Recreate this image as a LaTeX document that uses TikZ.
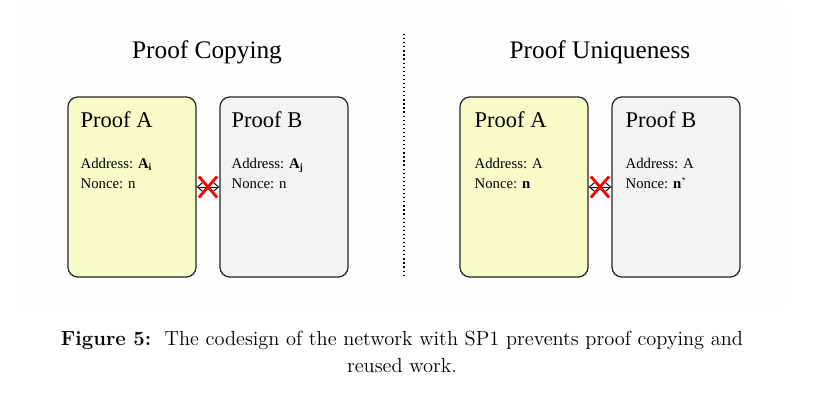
\documentclass[tikz,border=0pt]{standalone}
\usepackage{fontspec}
\newfontfamily\figfont{Liberation Serif}
\usetikzlibrary{shapes.misc,calc,arrows.meta}
\definecolor{proofyellow}{RGB}{247,252,200}
\definecolor{proofgrey}{RGB}{243,243,243}
\definecolor{panelgrey}{RGB}{253,253,253}
\begin{document}
\begin{tikzpicture}[x=0.025cm,y=-0.025cm,
    proofbox/.style={draw=black!85,line width=0.9pt,rounded corners=7pt,minimum width=3.2cm,minimum height=4.5cm,inner sep=0pt},
    heading/.style={anchor=base,inner sep=0pt,font=\figfont\fontsize{18}{20}\selectfont},
    boxtitle/.style={anchor=base west,inner sep=0pt,font=\figfont\fontsize{16}{18}\selectfont},
    boxtext/.style={anchor=base west,inner sep=0pt,font=\figfont\fontsize{10.5}{12}\selectfont},
    link/.style={{Straight Barb[length=3.5pt,width=6pt]}-{Straight Barb[length=3.5pt,width=6pt]},line width=0.7pt},
    nomatch/.style={cross out,draw=red,line width=2pt,minimum width=11pt,minimum height=13pt,inner sep=0pt},
    captext/.style={anchor=base,inner sep=0pt,font=\fontsize{14.5}{18}\selectfont}]
        \useasboundingbox (0,0) rectangle (829,406);
        \fill[panelgrey] (18,3) rectangle (785,310);
        \node[heading] (copyhead) at (207,59) {Proof Copying};\node[heading] (uniqhead) at (600,59) {Proof Uniqueness};
        \coordinate (divtop) at (404,34);\coordinate (divbot) at (404,278);
        \draw[dotted,line width=0.9pt] (divtop) -- (divbot);
        \node[proofbox,fill=proofyellow] (copya) at (132,187) {};\node[proofbox,fill=proofgrey] (copyb) at (284,187) {};
        \node[proofbox,fill=proofyellow] (uniqa) at (524,187) {};\node[proofbox,fill=proofgrey] (uniqb) at (676,187) {};
        \node[boxtitle] (copyatitle) at ($(copya.north west)+(13,31)$) {Proof A};
        \node[boxtext] (copyaaddr) at ($(copya.north west)+(13,72)$) {Address: \textbf{A\raisebox{-0.35ex}{\scriptsize i}}};
        \node[boxtext] (copyanonce) at ($(copya.north west)+(13,92)$) {Nonce: n};
        \node[boxtitle] (copybtitle) at ($(copyb.north west)+(12,31)$) {Proof B};
        \node[boxtext] (copybaddr) at ($(copyb.north west)+(12,72)$) {Address: \textbf{A\raisebox{-0.35ex}{\scriptsize j}}};
        \node[boxtext] (copybnonce) at ($(copyb.north west)+(12,92)$) {Nonce: n};
        \node[boxtitle] (uniqatitle) at ($(uniqa.north west)+(15,31)$) {Proof A};
        \node[boxtext] (uniqaaddr) at ($(uniqa.north west)+(15,72)$) {Address: A};
        \node[boxtext] (uniqanonce) at ($(uniqa.north west)+(15,92)$) {Nonce: \textbf{n}};
        \node[boxtitle] (uniqbtitle) at ($(uniqb.north west)+(14,31)$) {Proof B};
        \node[boxtext] (uniqbaddr) at ($(uniqb.north west)+(14,72)$) {Address: A};
        \node[boxtext] (uniqbnonce) at ($(uniqb.north west)+(14,92)$) {Nonce: \textbf{n\textasciigrave}};
        \draw[link] (copya.east) -- (copyb.west);\node[nomatch] (copyx) at ($(copya.east)!0.5!(copyb.west)$) {};
        \draw[link] (uniqa.east) -- (uniqb.west);\node[nomatch] (uniqx) at ($(uniqa.east)!0.5!(uniqb.west)$) {};
        \node[captext] (capline) at (402,346) {\textbf{Figure 5:}\ \ The codesign of the network with SP1 prevents proof copying and};
        \node[captext] (capend) at (402,372) {reused work.};
     \end{tikzpicture}
\end{document}
